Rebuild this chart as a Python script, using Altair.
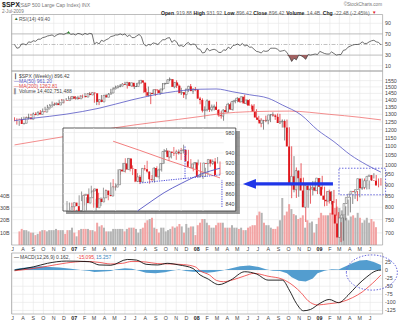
import altair as alt
import pandas as pd

FONT = "Liberation Sans"
GRID = "#e6e6e6"
FRAME = "#a0a0a0"
LAB = "#444444"
RED = "#e0161c"
UPC = "#555555"
BLUE_MA = "#5555c4"
RED_MA = "#f07070"
ANN = "#6b6bdd"

# ---------------- weekly $SPX data (week ending Fridays, Jul 2006 - Jul 2009) ----------------
WEEK0 = "2006-07-07"
OPEN0 = 1270.2

close_2006 = [1265.5, 1236.2, 1240.3, 1278.6, 1279.4, 1266.7, 1302.3, 1295.1, 1311.0, 1298.9,
              1319.7, 1314.8, 1335.9, 1349.6, 1362.8, 1368.6, 1377.3, 1364.3, 1380.9, 1401.2,
              1400.9, 1396.7, 1409.8, 1427.1, 1410.8, 1418.3]
high_2006 = [1280, 1273, 1257, 1280, 1284, 1285, 1304, 1303, 1312, 1314, 1322, 1329, 1340, 1352,
             1366, 1372, 1390, 1382, 1383, 1403, 1407, 1404, 1415, 1429, 1427, 1427]
low_2006 = [1254, 1232, 1224, 1240, 1265, 1262, 1265, 1290, 1294, 1294, 1298, 1310, 1313, 1327,
            1342, 1357, 1366, 1361, 1363, 1378, 1397, 1377, 1396, 1407, 1406, 1410]

close_2007 = [1409.7, 1430.7, 1430.5, 1422.2, 1448.4, 1438.1, 1455.5, 1451.2,
              1387.2, 1402.8, 1386.9, 1436.1, 1420.9, 1443.8, 1452.9, 1484.4, 1494.1,
              1505.6, 1505.9, 1522.8, 1515.7, 1536.3, 1507.7, 1532.9, 1502.6, 1503.4,
              1530.4, 1552.5, 1534.1, 1458.9, 1433.1, 1453.6, 1445.9, 1479.4, 1473.9,
              1453.6, 1484.3, 1525.8, 1526.8, 1557.6, 1561.8, 1500.6, 1535.3,
              1509.7, 1453.7, 1458.7, 1440.7, 1481.1, 1504.7, 1467.9, 1484.5, 1478.5]
high_2007 = [1429, 1432, 1436, 1441, 1453, 1452, 1461, 1461, 1457, 1409, 1407, 1438, 1437,
             1446, 1453, 1485, 1498, 1510, 1513, 1523, 1529, 1540, 1540, 1539, 1534, 1518,
             1532, 1555, 1556, 1538, 1488, 1503, 1456, 1480, 1482, 1481, 1485, 1530, 1533,
             1559, 1576, 1563, 1536, 1553, 1520, 1493, 1460, 1488, 1508, 1523, 1486, 1499]
low_2007 = [1404, 1403, 1424, 1416, 1420, 1437, 1436, 1449, 1381, 1364, 1364, 1385, 1408,
            1418, 1433, 1446, 1472, 1482, 1489, 1497, 1505, 1515, 1487, 1506, 1500, 1484,
            1500, 1517, 1527, 1455, 1430, 1427, 1371, 1444, 1432, 1449, 1439, 1472, 1516,
            1523, 1546, 1500, 1489, 1492, 1450, 1438, 1416, 1406, 1460, 1467, 1446, 1467]

close_2008 = [1411.6, 1401.0, 1325.2, 1330.6, 1395.4, 1331.3, 1349.0, 1353.1, 1330.6,
              1293.4, 1288.1, 1329.5, 1315.2, 1370.4, 1332.8, 1390.3, 1397.8,
              1413.9, 1388.3, 1425.4, 1375.9, 1400.4, 1360.7, 1360.0, 1317.9, 1278.4,
              1262.9, 1239.5, 1260.7, 1257.8, 1260.3, 1296.3, 1298.2, 1292.2, 1282.8,
              1242.3, 1251.7, 1255.1, 1213.3, 1099.2, 899.2, 940.6, 876.8, 968.8,
              931.0, 873.3, 800.0, 896.2, 876.1, 879.7, 887.9, 872.8]
high_2008 = [1480, 1424, 1413, 1355, 1406, 1396, 1368, 1368, 1388, 1336, 1321, 1334, 1358,
             1380, 1382, 1395, 1404, 1422, 1416, 1426, 1440, 1406, 1407, 1370, 1371, 1335,
             1290, 1274, 1263, 1291, 1286, 1298, 1314, 1300, 1305, 1303, 1266, 1265, 1265,
             1215, 1100, 1045, 985, 970, 1007, 934, 875, 898, 897, 918, 918, 891]
low_2008 = [1411, 1370, 1313, 1270, 1320, 1316, 1320, 1326, 1330, 1283, 1271, 1257, 1312,
            1312, 1331, 1325, 1377, 1384, 1380, 1385, 1372, 1365, 1360, 1335, 1317, 1272,
            1254, 1215, 1200, 1248, 1234, 1248, 1284, 1263, 1262, 1237, 1213, 1134, 1180,
            1097, 839, 865, 840, 845, 897, 818, 741, 798, 815, 851, 870, 857]

close_2009 = [931.8, 890.4, 850.1, 832.0, 825.9, 868.6, 826.8, 770.1, 735.1,
              683.4, 756.6, 768.5, 815.9, 842.5, 856.6, 869.6, 866.2,
              877.5, 929.2, 882.9, 887.0, 919.1, 940.1, 946.2, 921.2, 918.9, 896.4]
high_2009 = [932, 943, 891, 871, 877, 870, 876, 835, 780, 740, 758, 804, 833, 845, 857, 875,
             871, 880, 930, 930, 917, 920, 945, 956, 947, 930, 932]
low_2009 = [857, 878, 804, 806, 816, 812, 818, 766, 735, 667, 672, 747, 766, 779, 814, 836,
            826, 843, 876, 879, 878, 879, 918, 930, 904, 888, 896]

close = close_2006 + close_2007 + close_2008 + close_2009
high = high_2006 + high_2007 + high_2008 + high_2009
low = low_2006 + low_2007 + low_2008 + low_2009

# weekly volume, billions of shares
volume_b = [11, 13, 12, 12, 11, 10, 10, 8, 9, 11, 12, 12, 11, 12, 12, 12, 13, 12, 12, 12, 9, 12, 12, 14, 10, 7,
            12, 13, 13, 13, 13, 12, 12, 11, 18, 15, 16, 14, 11, 11, 11, 13, 13, 13, 13, 13, 11,
            13, 14, 14, 14, 13, 10, 13, 14, 18, 20, 21, 22, 14, 13, 10, 14, 14, 11, 12, 13, 15, 14,
            15, 17, 15, 10, 17, 14, 15, 15, 8,
            16, 18, 21, 21, 18, 16, 14, 14, 16, 18, 18, 18, 14, 14, 14, 16, 14, 14, 13, 14, 12, 12,
            14, 15, 16, 16, 24, 27, 26, 18, 16, 16, 14, 13, 13, 15, 20, 38, 24, 27, 33, 29, 25, 24,
            21, 22, 24, 14, 20, 18, 19, 10,
            17, 22, 26, 24, 24, 24, 26, 26, 30, 31, 30, 28, 24, 22, 20, 23, 24, 22, 26, 22, 18, 20,
            22, 18, 21, 19, 14.4]

# RSI(14), weekly
rsi = [50, 43, 44, 51, 51, 49, 55, 54, 57, 56, 60, 60, 63, 64, 66, 67, 68, 65, 68, 70, 70, 69, 71, 73, 69, 70,
       68, 71, 70, 68, 71, 69, 71, 70, 51, 54, 51, 58, 56, 59, 61, 65, 66, 68, 68, 70, 68,
       70, 65, 68, 63, 63, 66, 69, 65, 51, 47, 50, 49, 53, 52, 50, 54, 59, 59, 62, 63, 54, 58,
       55, 47, 48, 46, 51, 54, 49, 51, 50,
       42, 41, 34, 35, 43, 38, 40, 41, 39, 35, 35, 40, 39, 45, 42, 48, 49, 51, 48, 52, 47, 49,
       45, 45, 41, 37, 36, 34, 38, 37, 38, 43, 43, 43, 41, 37, 38, 39, 35, 27, 18, 24, 21, 30,
       29, 26, 22, 31, 30, 31, 32, 31,
       37, 35, 33, 32, 32, 36, 33, 30, 31, 31, 39, 40, 45, 47, 49, 50, 50, 51, 55, 52, 52, 55,
       57, 58, 55, 54, 49.4]

# moving averages read at a few weeks (week index -> value)
ma50_wk = [0, 8, 22, 36, 50, 65, 79, 86, 93, 100, 108, 114, 122, 129, 136, 143, 150, 156]
ma50_val = [1258, 1274, 1301, 1342, 1402, 1456, 1482, 1484, 1462, 1440, 1414, 1365, 1296, 1198,
            1127, 1052, 998, 961.2]
ma200_wk = [0, 21, 42, 79, 88, 100, 117, 134, 147, 156]
ma200_val = [1108, 1157, 1210, 1285, 1305, 1318, 1322, 1300, 1280, 1262.8]

# MACD(12,26,9)
macd_wk = [0, 8, 14, 22, 32, 36, 41, 48, 52, 56, 61, 65, 70, 76, 79, 82, 87, 92, 98, 103, 108,
           114, 117, 120, 123, 126, 130, 134, 138, 142, 146, 150, 154, 156]
macd_val = [0, 10, 21, 28, 26, 16, 15, 33, 31, 18, 16, 21, 16, 5, -15, -26, -45, -31, -5, -12, -31,
            -31, -62, -103, -126, -122, -103, -91, -101, -78, -47, -21, -2, 0.162]
sig_wk = [0, 8, 14, 22, 30, 36, 41, 46, 50, 56, 61, 66, 72, 77, 79, 83, 86, 89, 93, 98, 102, 108,
          114, 119, 122, 125, 129, 134, 139, 144, 148, 151, 154, 156]
sig_val = [-2, 5, 12, 22, 27, 24, 19, 21, 27, 25, 20, 19, 17, 10, -2, -15, -32, -36, -30, -18, -10,
           -19, -28, -50, -70, -95, -108, -104, -99, -85, -68, -50, -30, -15.095]
hist_wk = [0, 2, 7, 11, 15, 19, 24, 28, 32, 34, 36, 41, 43, 47, 50, 53, 56, 60, 64, 67, 70, 73, 76,
           79, 82, 85, 88, 92, 96, 100, 104, 107, 110, 113, 116, 118, 121, 124, 127, 129, 132, 135,
           138, 141, 144, 147, 150, 153, 156]
hist_val = [3, 6, 10, 12, 10, 8, 4, 0, -3, -6, -5, -3, 2, 6, 4, -2, -8, -10, -7, -2, 2, -3, -5,
            -6, -8, -6, -2, 5, 12, 14, 10, 3, -2, -3, -10, -22, -33, -35, -26, -10, -2, 3,
            2, 12, 22, 30, 31, 25, 16]

# ---------------- inset: daily $SPX, Apr 2 - Jul 2 2009 ----------------
DAY_OPEN0 = 811.1
d_close = [834.4, 842.5, 835.5, 815.6, 825.2, 856.6, 858.7, 841.5, 852.1, 865.3,
           869.6, 832.4, 850.1, 843.6, 851.9, 866.2, 857.5, 855.2, 873.6, 872.8,
           877.5, 907.2, 903.8, 919.5, 907.4, 929.2, 909.2, 908.4, 883.9, 893.1,
           882.9, 909.7, 908.1, 903.5, 888.3, 887.0, 910.3, 893.1, 906.8, 919.1,
           942.9, 944.7, 931.8, 942.5, 940.1, 939.1, 942.4, 939.2, 944.9, 946.2,
           923.7, 912.0, 910.7, 918.4, 921.2, 893.0, 895.1, 900.9, 920.3, 918.9,
           927.2, 919.3, 923.3, 896.4]
d_high = [845.6, 842.6, 842.5, 834.0, 828.4, 856.9, 864.3, 856.9, 853.0, 870.4,
          875.6, 868.3, 850.1, 861.8, 852.9, 871.8, 868.3, 864.5, 882.1, 888.7,
          880.2, 907.8, 907.7, 920.3, 929.6, 930.2, 929.0, 915.6, 908.4, 900.4,
          896.9, 910.0, 916.4, 924.6, 903.5, 896.7, 911.8, 913.8, 909.5, 920.0,
          947.8, 949.4, 944.7, 942.5, 951.7, 946.3, 946.9, 949.8, 956.2, 946.3,
          942.5, 928.0, 918.4, 922.0, 927.1, 918.1, 898.7, 910.9, 921.4, 922.0,
          927.2, 930.0, 931.9, 923.3]
d_low = [811.0, 826.8, 818.0, 814.8, 814.8, 829.4, 845.4, 836.9, 826.8, 847.0,
         860.9, 832.4, 826.8, 840.6, 835.6, 853.9, 855.0, 847.1, 856.9, 868.5,
         866.1, 877.5, 897.3, 903.9, 901.4, 907.4, 903.7, 896.5, 882.5, 882.9,
         878.9, 882.9, 905.2, 901.4, 879.6, 883.8, 881.5, 891.9, 887.6, 903.3,
         919.1, 938.5, 923.9, 929.3, 934.1, 926.4, 936.7, 926.0, 939.0, 935.7,
         919.7, 911.6, 903.8, 908.7, 915.8, 893.0, 888.9, 893.0, 896.3, 913.0,
         916.2, 910.9, 919.3, 896.4]
inset_red_i = [19, 30, 40, 50, 63]
inset_red_v = [963, 945, 928, 912, 891]
inset_blue_i = [29, 35, 40, 47, 55, 63]
inset_blue_v = [826, 846, 862, 880, 898, 910]
inset_support_i = [30, 63]
inset_support_v = [881, 897]
inset_vmarks = [(48.6, 889, 955), (63.8, 834, 887)]

# ---------------- ticks / labels ----------------
month_labels = ["J", "A", "S", "O", "N", "D", "07", "F", "M", "A", "M", "J", "J", "A", "S", "O", "N", "D",
                "08", "F", "M", "A", "M", "J", "J", "A", "S", "O", "N", "D", "09", "F", "M", "A", "M", "J"]
price_ticks = [700, 750, 800, 850, 900, 950, 1000, 1050, 1100, 1150, 1200, 1250, 1300, 1350,
               1400, 1450, 1500, 1550]
vol_ticks = [10, 20, 30, 40]
vol_tick_labels = ["10B", "20B", "30B", "40B"]
rsi_ticks = [10, 30, 50, 70, 90]
macd_ticks = [25, 0, -25, -50, -75, -100, -125]
inset_hgrid = [840, 860, 880, 900, 920, 940, 960, 980]
inset_ticks = [840, 860, 880, 900, 920, 940, 980]
inset_vgrid = [3, 11, 20, 29, 38, 47, 56]

ARROW_PRICE = 904
ARROW_HEAD = "2008-06-06"
ARROW_FROM = "2008-06-14"
ARROW_TO = "2009-02-10"
BOX = ("2009-02-28", "2009-07-17", 854, 981)
CIRCLE = ("2009-06-06", -7.5)

# ---------------- frames ----------------
dates = pd.date_range(WEEK0, periods=len(close), freq="7D")
wk = pd.DataFrame({"date": dates.strftime("%Y-%m-%d"), "close": close, "vol": volume_b, "rsi": rsi})
wk["open"] = [OPEN0] + close[:-1]
wk["hi"] = [max(h, o, c) for h, o, c in zip(high, wk["open"], close)]
wk["lo"] = [min(l, o, c) for l, o, c in zip(low, wk["open"], close)]
wk["up"] = wk["close"] >= wk["open"]


def wseries(idx, vals):
    return pd.DataFrame({"date": [wk["date"][i] for i in idx], "v": vals})


mon = pd.DataFrame({"date": pd.date_range("2006-07-01", periods=len(month_labels), freq="MS").strftime("%Y-%m-%d"),
                    "t": month_labels})
mon["yr"] = [len(s) == 2 for s in month_labels]

ins = pd.DataFrame({"i": list(range(len(d_close))), "close": d_close})
ins["open"] = [DAY_OPEN0] + d_close[:-1]
ins["hi"] = [max(h, o, c) for h, o, c in zip(d_high, ins["open"], d_close)]
ins["lo"] = [min(l, o, c) for l, o, c in zip(d_low, ins["open"], d_close)]
ins["up"] = ins["close"] >= ins["open"]

one = pd.DataFrame({"k": [0]})


def DT(s):
    y, m, d = map(int, s.split("-"))
    return alt.DateTime(year=y, month=m, date=d, utc=True)


X0, X1 = "2006-06-28", "2009-07-08"
XS = alt.Scale(domain=[DT(X0), DT(X1)], range=[11.5, 382.6])
PY = alt.Scale(type="log", domain=[657, 1630], range=[245, 71], nice=False, zero=False)
VY = alt.Scale(domain=[0, 40], range=[245, 195.5], nice=False, zero=False)
RY = alt.Scale(domain=[0, 106.6], range=[71, 14.5], nice=False, zero=False)
MY = alt.Scale(domain=[-136, 53], range=[314, 253], nice=False, zero=False)
IX = alt.Scale(domain=[0, 63], range=[67, 220], nice=False, zero=False)
IY = alt.Scale(domain=[826, 989], range=[211, 128], nice=False, zero=False, clamp=True)
IYF = alt.Scale(domain=[826, 989], range=[211, 128], nice=False, zero=False)


def ex(field="date"):
    return alt.X(f"{field}:T", scale=XS, axis=None)


def ey(field, sc):
    return alt.Y(f"{field}:Q", scale=sc, axis=None)


def xdat(s):
    return alt.XDatum(DT(s), type="temporal", scale=XS, axis=None)


def ydat(v, sc):
    return alt.YDatum(v, type="quantitative", scale=sc, axis=None)


def vgrid(lo, hi, sc):
    return alt.Chart(mon).mark_rule(color=GRID, strokeWidth=0.6).encode(
        x=ex(), y=ydat(lo, sc), y2=alt.Y2Datum(hi))


def hgrid(vals, sc, color=GRID, width=0.6, dash=None):
    kw = dict(color=color, strokeWidth=width)
    if dash:
        kw["strokeDash"] = dash
    return alt.Chart(pd.DataFrame({"v": vals})).mark_rule(**kw).encode(
        x=xdat(X0), x2=alt.X2Datum(DT(X1)), y=ey("v", sc))


def frame(lo, hi, sc):
    return alt.Chart(one).mark_rect(fillOpacity=0, stroke=FRAME, strokeWidth=0.7).encode(
        x=xdat(X0), x2=alt.X2Datum(DT(X1)), y=ydat(lo, sc), y2=alt.Y2Datum(hi))


def rlabels(vals, sc, labels=None, x=385, align="left"):
    df = pd.DataFrame({"v": vals, "t": labels if labels else [str(v) for v in vals]})
    return alt.Chart(df).mark_text(align=align, baseline="middle", font=FONT, fontSize=5.3,
                                   color=LAB).encode(x=alt.value(x), y=ey("v", sc), text="t:N")


def txt(s, x, y, size=5.0, color=LAB, bold=False, align="left"):
    return alt.Chart(pd.DataFrame({"t": [s]})).mark_text(
        align=align, baseline="middle", font=FONT, fontSize=size, color=color,
        fontWeight="bold" if bold else "normal").encode(x=alt.value(x), y=alt.value(y), text="t:N")


layers = []

# grids
layers += [vgrid(0, 106.6, RY), vgrid(657, 1630, PY), vgrid(-136, 53, MY)]
layers += [hgrid(price_ticks, PY), hgrid([10, 90], RY), hgrid(macd_ticks, MY)]

# volume
layers.append(alt.Chart(wk).mark_bar(size=2).encode(
    x=ex(), y=ey("vol", VY), y2=alt.Y2Datum(0),
    color=alt.condition("datum.up", alt.value("#b4b4b4"), alt.value("#f2a4a4"))))

# candles
layers.append(alt.Chart(wk).mark_rule(strokeWidth=0.7).encode(
    x=ex(), y=ey("lo", PY), y2="hi:Q",
    color=alt.condition("datum.up", alt.value(UPC), alt.value(RED))))
layers.append(alt.Chart(wk).transform_filter("!datum.up").mark_bar(size=2, color=RED).encode(
    x=ex(), y=ey("open", PY), y2="close:Q"))
layers.append(alt.Chart(wk).transform_filter("datum.up").mark_bar(
    size=1.8, fill="white", stroke=UPC, strokeWidth=0.5).encode(
    x=ex(), y=ey("open", PY), y2="close:Q"))

# moving averages
layers.append(alt.Chart(wseries(ma200_wk, ma200_val)).mark_line(
    color=RED_MA, strokeWidth=0.8, interpolate="monotone").encode(x=ex(), y=ey("v", PY)))
layers.append(alt.Chart(wseries(ma50_wk, ma50_val)).mark_line(
    color=BLUE_MA, strokeWidth=0.8, interpolate="monotone").encode(x=ex(), y=ey("v", PY)))

# RSI panel
layers.append(hgrid([30, 70], RY, color="#b5b5b5", width=0.9))
layers.append(hgrid([50], RY, color="#999999", width=0.6, dash=[4, 1.5, 1, 1.5]))
layers.append(alt.Chart(wk).transform_calculate(lo="min(datum.rsi, 30)").mark_area(
    color="#9c5a5a", opacity=0.95).encode(x=ex(), y=ey("lo", RY), y2=alt.Y2Datum(30)))
layers.append(alt.Chart(wk).mark_line(color="#333333", strokeWidth=0.7).encode(x=ex(), y=ey("rsi", RY)))
layers.append(alt.Chart(wk.iloc[[23]]).mark_point(shape="triangle-up", size=9, filled=True,
                                                   color="#2e8b2e", opacity=1).encode(
    x=ex(), y=ey("rsi", RY)))

# MACD panel
layers.append(alt.Chart(wseries(hist_wk, hist_val)).mark_area(color="#4a98cc", opacity=0.95).encode(
    x=ex(), y=ey("v", MY), y2=alt.Y2Datum(0)))
layers.append(alt.Chart(wseries(sig_wk, sig_val)).mark_line(
    color="#ee3a3a", strokeWidth=0.8, interpolate="monotone").encode(x=ex(), y=ey("v", MY)))
layers.append(alt.Chart(wseries(macd_wk, macd_val)).mark_line(
    color="#111111", strokeWidth=0.9, interpolate="monotone").encode(x=ex(), y=ey("v", MY)))

# frames
layers += [frame(0, 106.6, RY), frame(657, 1630, PY), frame(-136, 53, MY)]

# axis labels
layers.append(rlabels(price_ticks, PY))
layers.append(rlabels(rsi_ticks, RY))
layers.append(rlabels(macd_ticks, MY))
layers.append(rlabels(vol_ticks, VY, vol_tick_labels, x=9.5, align="right"))
for yy in (249, 318):
    layers.append(alt.Chart(mon).transform_filter("!datum.yr").mark_text(
        baseline="middle", font=FONT, fontSize=5.3, color=LAB).encode(
        x=ex(), y=alt.value(yy), text="t:N"))
    layers.append(alt.Chart(mon).transform_filter("datum.yr").mark_text(
        baseline="middle", font=FONT, fontSize=5.3, fontWeight="bold", color="#222222").encode(
        x=ex(), y=alt.value(yy), text="t:N"))

# header
layers.append(txt("$SPX", 2, 5, size=7, color="#222222", bold=True))
layers.append(txt("(S&P 500 Large Cap Index) INX", 19, 5, size=5, color="#777777"))
layers.append(txt("2-Jul-2009", 2, 12, size=4.6, color="#777777"))
layers.append(txt("\u00a9StockCharts.com", 382, 5, size=4.6, color="#777777", align="right"))
header = [("Open", True, 161), ("919.88", False, 176.3), ("High", True, 193.6), ("931.92", False, 206.5),
          ("Low", True, 224.2), ("896.42", False, 236.2), ("Close", True, 253.2), ("896.42", False, 268.8),
          ("Volume", True, 286.3), ("14.4B", False, 306.8), ("Chg", True, 322.8),
          ("-22.48 (-2.45%)", False, 334.2)]
for s, b, x in header:
    layers.append(txt(s, x, 12.5, size=5.1, color="#222222" if b else "#666666", bold=b))
layers.append(txt("\u25bc", 372, 12.5, size=4.5, color=RED))

# panel legends
layers.append(txt("\u25b2", 14, 18.5, size=4.5, color="#2e6b2e"))
layers.append(txt("RSI(14) 49.40", 19, 18.5, size=5, color="#555555"))
layers.append(txt("\u2503", 14, 75.5, size=5, color="#333333"))
layers.append(txt("$SPX (Weekly) 896.42", 19, 75.5, size=5, color="#444444"))
layers.append(txt("\u2014", 14, 80.5, size=5, color=BLUE_MA))
layers.append(txt("MA(50) 961.20", 19, 80.5, size=5, color=BLUE_MA))
layers.append(txt("\u2014", 14, 85.5, size=5, color=RED_MA))
layers.append(txt("MA(200) 1262.81", 19, 85.5, size=5, color="#e04848"))
layers.append(txt("\u258c", 14, 90.5, size=5, color="#999999"))
layers.append(txt("Volume 14,402,751,488", 19, 90.5, size=5, color="#444444"))
layers.append(txt("\u2014", 14, 257, size=5, color="#111111"))
layers.append(txt("MACD(12,26,9) 0.162,", 20, 257, size=5, color="#444444"))
layers.append(txt("-15.095,", 77, 257, size=5, color="#ee3a3a"))
layers.append(txt("15.257", 96, 257, size=5, color="#3a88c0"))

# ---------------- inset ----------------
layers.append(alt.Chart(one).mark_rect(color="#555555", opacity=0.6).encode(
    x=alt.XDatum(-0.4, type="quantitative", scale=IX, axis=None), x2=alt.X2Datum(71.2),
    y=alt.YDatum(983, type="quantitative", scale=IYF, axis=None), y2=alt.Y2Datum(820)))
layers.append(alt.Chart(one).mark_rect(fill="white", stroke="#333333", strokeWidth=0.8).encode(
    x=alt.XDatum(-1.65, type="quantitative", scale=IX, axis=None), x2=alt.X2Datum(69.5),
    y=alt.YDatum(989, type="quantitative", scale=IYF, axis=None), y2=alt.Y2Datum(826)))
layers.append(alt.Chart(pd.DataFrame({"v": inset_hgrid})).mark_rule(color=GRID, strokeWidth=0.6).encode(
    x=alt.XDatum(-1.65, type="quantitative", scale=IX, axis=None), x2=alt.X2Datum(64.5),
    y=ey("v", IY)))
layers.append(alt.Chart(pd.DataFrame({"i": inset_vgrid})).mark_rule(color=GRID, strokeWidth=0.6).encode(
    x=alt.X("i:Q", scale=IX, axis=None),
    y=alt.YDatum(826, type="quantitative", scale=IY, axis=None), y2=alt.Y2Datum(989)))
layers.append(alt.Chart(ins).mark_rule(strokeWidth=0.6).encode(
    x=alt.X("i:Q", scale=IX, axis=None), y=ey("lo", IY), y2="hi:Q",
    color=alt.condition("datum.up", alt.value(UPC), alt.value(RED))))
layers.append(alt.Chart(ins).transform_filter("!datum.up").mark_bar(size=1.9, color=RED).encode(
    x=alt.X("i:Q", scale=IX, axis=None), y=ey("open", IY), y2="close:Q"))
layers.append(alt.Chart(ins).transform_filter("datum.up").mark_bar(
    size=1.7, fill="white", stroke=UPC, strokeWidth=0.5).encode(
    x=alt.X("i:Q", scale=IX, axis=None), y=ey("open", IY), y2="close:Q"))
layers.append(alt.Chart(pd.DataFrame({"i": inset_red_i, "v": inset_red_v})).mark_line(
    color=RED_MA, strokeWidth=0.9).encode(x=alt.X("i:Q", scale=IX, axis=None), y=ey("v", IY)))
layers.append(alt.Chart(pd.DataFrame({"i": inset_blue_i, "v": inset_blue_v})).mark_line(
    color=BLUE_MA, strokeWidth=0.9, interpolate="monotone").encode(
    x=alt.X("i:Q", scale=IX, axis=None), y=ey("v", IY)))
layers.append(alt.Chart(pd.DataFrame({"i": inset_support_i, "v": inset_support_v})).mark_line(
    color="#4a4ad8", strokeWidth=1, strokeDash=[1.2, 1.2]).encode(
    x=alt.X("i:Q", scale=IX, axis=None), y=ey("v", IY)))
layers.append(alt.Chart(pd.DataFrame({"i": [m[0] for m in inset_vmarks], "a": [m[1] for m in inset_vmarks],
                                      "b": [m[2] for m in inset_vmarks]})).mark_rule(
    color="#4a4ad8", strokeWidth=1, strokeDash=[1.2, 1.2]).encode(
    x=alt.X("i:Q", scale=IX, axis=None), y=ey("a", IY), y2="b:Q"))
layers.append(rlabels(inset_ticks, IY, x=225.5))

# ---------------- annotations ----------------
layers.append(alt.Chart(pd.DataFrame({"a": [ARROW_FROM], "b": [ARROW_TO], "p": [ARROW_PRICE]})).mark_rule(
    color="#1f36e8", strokeWidth=3.2).encode(x=ex("a"), x2="b:T", y=ey("p", PY)))
layers.append(alt.Chart(pd.DataFrame({"date": [ARROW_HEAD], "p": [ARROW_PRICE]})).mark_point(
    shape="M -1 0 L 1 -0.75 L 1 0.75 Z", size=170, filled=True, color="#1f36e8", opacity=1).encode(
    x=ex(), y=ey("p", PY)))
layers.append(alt.Chart(pd.DataFrame({"a": [BOX[0]], "b": [BOX[1]], "lo": [BOX[2]], "hi": [BOX[3]]})).mark_rect(
    fillOpacity=0, stroke=ANN, strokeDash=[1.5, 1.5], strokeWidth=1).encode(
    x=ex("a"), x2="b:T", y=ey("lo", PY), y2="hi:Q"))
layers.append(alt.Chart(pd.DataFrame({"date": [CIRCLE[0]], "v": [CIRCLE[1]]})).mark_point(
    shape="M -1 0 A 1 0.69 0 1 1 1 0 A 1 0.69 0 1 1 -1 0 Z", size=2601, filled=False,
    color=ANN, strokeDash=[1.5, 1.5], strokeWidth=1, opacity=1).encode(x=ex(), y=ey("v", MY)))

chart = alt.layer(*layers).resolve_scale(x="independent", y="independent").properties(
    width=400, height=324, padding=0, autosize=alt.AutoSizeParams(type="none")
).configure_view(stroke=None)

chart.save("out.html", embed_options={"renderer": "svg", "actions": False})
